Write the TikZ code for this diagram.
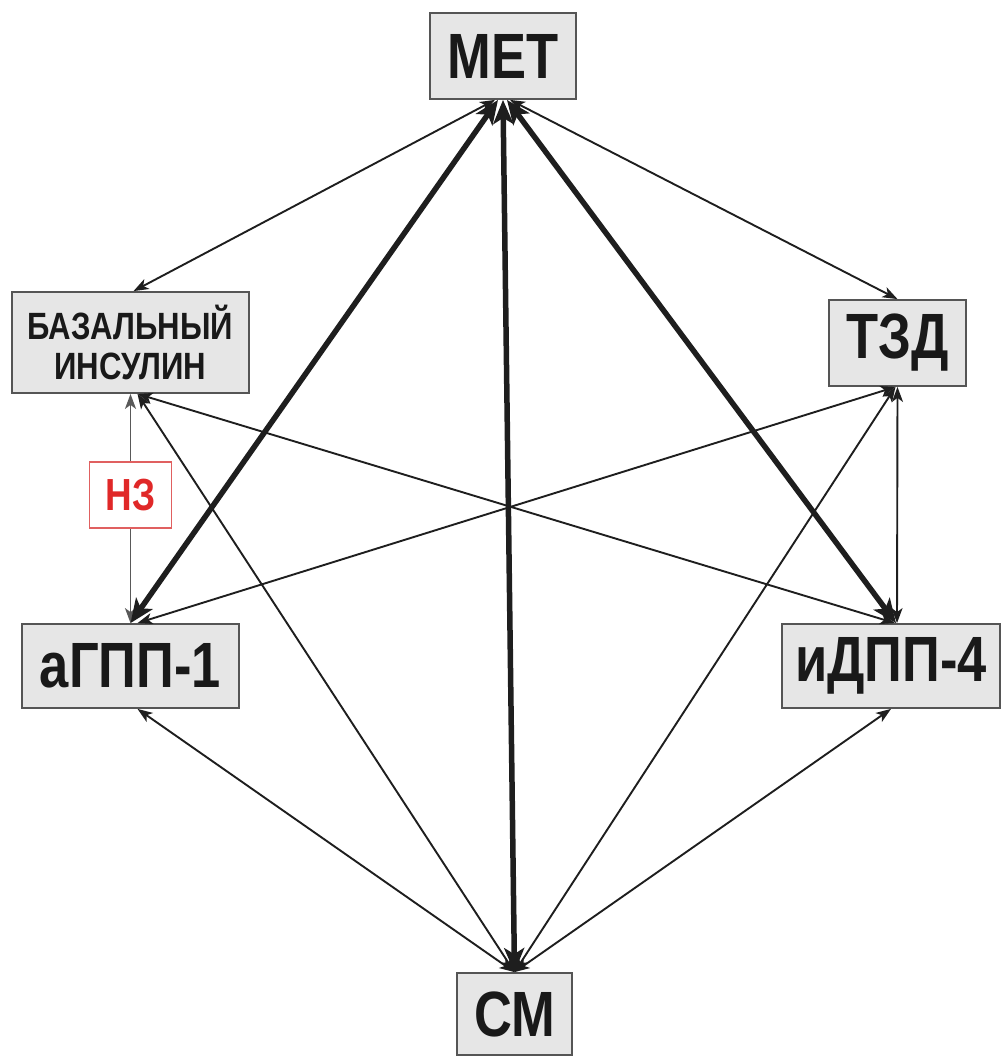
\documentclass[tikz,border=0pt]{standalone}
\usepackage{fontspec}
\newfontfamily\labfont{Liberation Sans}[FakeStretch=0.82]
\usetikzlibrary{arrows.meta}
\definecolor{boxfill}{HTML}{E6E6E6}
\definecolor{boxline}{HTML}{555555}
\definecolor{lnk}{HTML}{1E1E1E}
\definecolor{nzred}{HTML}{E02828}
\definecolor{nzline}{HTML}{E06060}
\begin{document}
\begin{tikzpicture}[x=1pt,y=-1pt,
  drug/.style={draw=boxline,line width=1.8pt,fill=boxfill,inner sep=0pt,align=center,
    font=\labfont\bfseries\fontsize{64}{64}\selectfont,text=black!90},
  smalldrug/.style={drug,font=\labfont\bfseries\fontsize{38}{40}\selectfont},
  thinlink/.style={draw=lnk,line width=1.9pt,{Stealth[length=15pt,width=11pt,inset=4pt]}-{Stealth[length=15pt,width=11pt,inset=4pt]}},
  thicklink/.style={draw=lnk,line width=5.5pt,{Stealth[length=24pt,width=20pt,inset=6pt]}-{Stealth[length=24pt,width=20pt,inset=6pt]}},
  nzbox/.style={draw=nzline,line width=1.5pt,fill=white,inner sep=0pt,
    minimum width=82pt,minimum height=66pt,text=nzred,
    font=\labfont\bfseries\fontsize{45}{45}\selectfont}
]
\useasboundingbox (0,0) rectangle (1002,1057);
\node[drug,minimum width=146pt,minimum height=86pt] (met) at (503,56) {MET};
\node[smalldrug,minimum width=237pt,minimum height=101pt] (baz) at (130.5,342.5) {БАЗАЛЬНЫЙ\\ИНСУЛИН};
\node[drug,minimum width=137pt,minimum height=86pt] (tzd) at (897.5,343) {ТЗД};
\node[drug,minimum width=217pt,minimum height=84pt] (agpp) at (130.5,666) {аГПП-1};
\node[drug,minimum width=218pt,minimum height=84pt] (idpp) at (891,666) {иДПП-4};
\node[drug,minimum width=115pt,minimum height=82pt] (sm) at (514.5,1014) {СМ};

% thin links
\draw[thinlink] ([xshift=-8pt]met.south) -- ([xshift=3pt]baz.north);
\draw[thinlink] ([xshift=7pt]met.south) -- (tzd.north);
\draw[thinlink] ([xshift=7pt]baz.south) -- ([xshift=4pt]idpp.north);
\draw[thinlink] ([xshift=7pt]baz.south) -- (sm.north);
\draw[thinlink] ([xshift=-2pt]tzd.south) -- ([xshift=7pt]agpp.north);
\draw[thinlink] ([xshift=-2pt]tzd.south) -- (sm.north);
\draw[thinlink] (tzd.south) -- ([xshift=6pt]idpp.north);
\draw[thinlink] ([xshift=7pt]agpp.south) -- (sm.north);
\draw[thinlink] (idpp.south) -- (sm.north);
\draw[thinlink,draw=black!65] (baz.south) -- (agpp.north)
  node[nzbox,pos=0.44] (nz) {НЗ};

% thick links
\draw[thicklink] ([xshift=-5pt]met.south) -- (agpp.north);
\draw[thicklink] (met.south) -- (sm.north);
\draw[thicklink] ([xshift=4pt]met.south) -- ([xshift=5pt]idpp.north);
\end{tikzpicture}
\end{document}
